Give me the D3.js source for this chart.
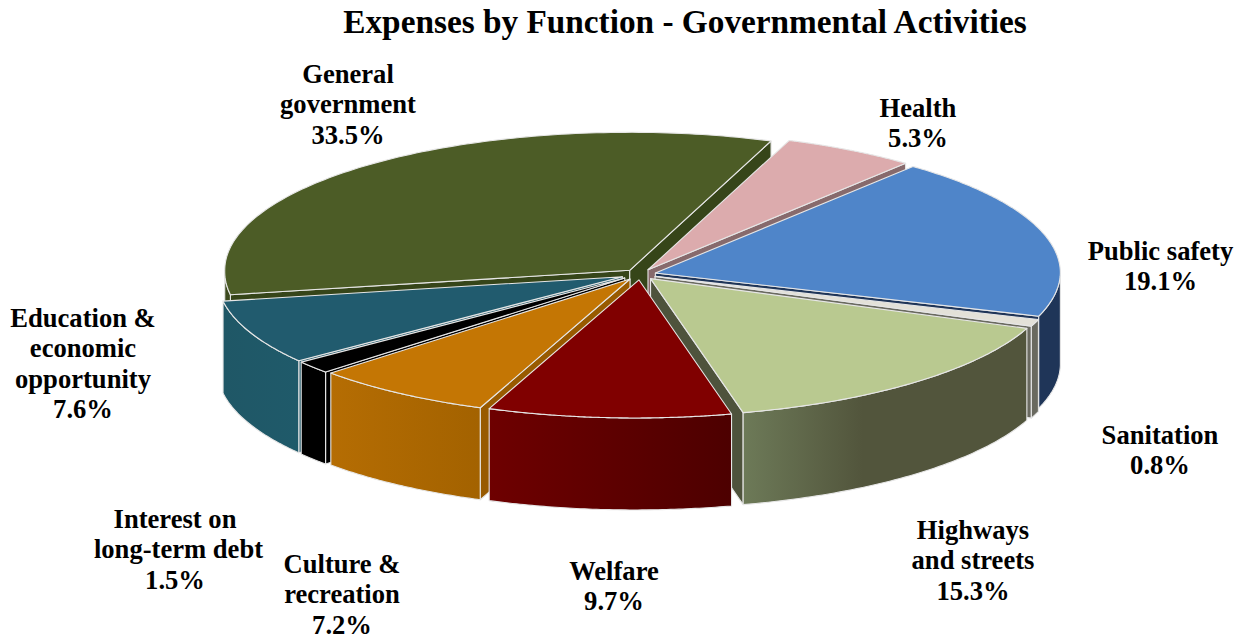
<!DOCTYPE html>
<html><head><meta charset="utf-8">
<script src="https://cdn.jsdelivr.net/npm/d3@7"></script>
<style>html,body{margin:0;background:#fff}svg{display:block}text{font-family:"Liberation Serif",serif;font-weight:bold;fill:#000}</style>
</head><body><svg id="c" width="1243" height="638"></svg>
<script>
const titleText = "Expenses by Function - Governmental Activities";
const categories = ["Public safety","Sanitation","Highways and streets","Welfare","Culture & recreation","Interest on long-term debt","Education & economic opportunity","General government","Health"];
const values = [19.1,0.8,15.3,9.7,7.2,1.5,7.6,33.5,5.3];
const labelLines = [["Public safety","19.1%"],["Sanitation","0.8%"],["Highways","and streets","15.3%"],["Welfare","9.7%"],["Culture &","recreation","7.2%"],["Interest on","long-term debt","1.5%"],["Education &","economic","opportunity","7.6%"],["General","government","33.5%"],["Health","5.3%"]];
const labelX = [1160.5,1160,973,614,342,175,83,348,918];
const labelY = [259.5,443.5,538.5,579.5,572.5,527.5,326.5,82.5,116.5];
const topColors = ["#4f85c9","#e3e1d8","#b9c990","#800000","#c47604","#000000","#215b6e","#4c5c26","#dcabad"];
const wallColors = ["#1f3558","#6a6a60","#4e533c","#600000","#985a00","#000000","#1e5566","#364519","#876a6c"];
const sideStops = [["#1f3558","#1f3558"],["#6a6a60","#6a6a60"],["#6d7a58","#52553c"],["#6e0000","#4d0000"],["#b56d03","#a36200"],["#000000","#000000"],["#1f5766","#1f5a6a"],["#3c4a1e","#3c4a1e"],["#876a6c","#876a6c"]];
const drawOrder = [7,8,0,6,1,5,2,4,3];
const nudgeX = [0,0,0,0,-1,-3,-3,0,0];

const cx=640, cy=274.5, R=405, Ry=138, depth=92, explode=16, frontSkew=4, strokeC="#e6e6e6";
const sx=d3.scaleLinear().domain([-1,1]).range([-R,R]);
const sy=d3.scaleLinear().domain([-1,1]).range([-Ry,Ry]);
const arcs=d3.pie().sort(null).startAngle(39.5*Math.PI/180).endAngle(39.5*Math.PI/180+2*Math.PI)(values);
const svg=d3.select("#c");
svg.append("text").attr("x",685).attr("y",33).attr("text-anchor","middle").style("font-size","33.3px").text(titleText);
const defs=svg.append("defs");
const line=d3.line().x(d=>d[0]).y(d=>d[1]);

drawOrder.forEach(i=>{
  const a=arcs[i], a0=a.startAngle, a1=a.endAngle, mid=(a0+a1)/2;
  const ox=cx+explode*Math.sin(mid)+nudgeX[i], oy=cy-explode*(Ry/R)*Math.cos(mid);
  const P=(t,d=0)=>[ox+sx(Math.sin(t))-frontSkew*Math.max(0,-Math.cos(t)), oy-sy(Math.cos(t))+d];
  const O=(d=0)=>[ox,oy+d];
  const g=svg.append("g");
  const wall=(t)=>g.append("path").attr("d",line([O(),P(t),P(t,depth),O(depth)])+"Z").attr("fill",wallColors[i]).attr("stroke",strokeC).attr("stroke-width",1.1).attr("stroke-linejoin","round");
  if(-Math.sin(a0)>0) wall(a0);
  if(Math.sin(a1)>0) wall(a1);
  const twoPi=2*Math.PI;
  for(const shift of [0,twoPi]){
    const s=Math.max(a0,Math.PI/2+shift), e=Math.min(a1,3*Math.PI/2+shift);
    if(e>s){
      const ts=d3.range(0,61).map(k=>s+(e-s)*k/60);
      const id="side"+i; 
      const gr=defs.append("linearGradient").attr("id",id).attr("x1",0).attr("x2",1).attr("y1",0).attr("y2",0);
      gr.append("stop").attr("offset",0).attr("stop-color",sideStops[i][0]);
      gr.append("stop").attr("offset",i===2?0.42:1).attr("stop-color",sideStops[i][1]);
      g.append("path").attr("d",line(ts.map(t=>P(t)).concat(ts.slice().reverse().map(t=>P(t,depth))))+"Z")
       .attr("fill",`url(#${id})`).attr("stroke",strokeC).attr("stroke-width",1.1).attr("stroke-linejoin","round");
    }
  }
  const ts=d3.range(0,121).map(k=>a0+(a1-a0)*k/120);
  g.append("path").attr("d",line([O()].concat(ts.map(t=>P(t))))+"Z").attr("fill",topColors[i]).attr("stroke",strokeC).attr("stroke-width",1.1).attr("stroke-linejoin","round");
});

labelLines.forEach((ls,i)=>{
  const t=svg.append("text").attr("text-anchor","middle").style("font-size","26.6px");
  ls.forEach((s,j)=>t.append("tspan").attr("x",labelX[i]+(s==="long-term debt"?3.5:0)).attr("y",labelY[i]+j*30.5).text(s));
});
</script></body></html>
